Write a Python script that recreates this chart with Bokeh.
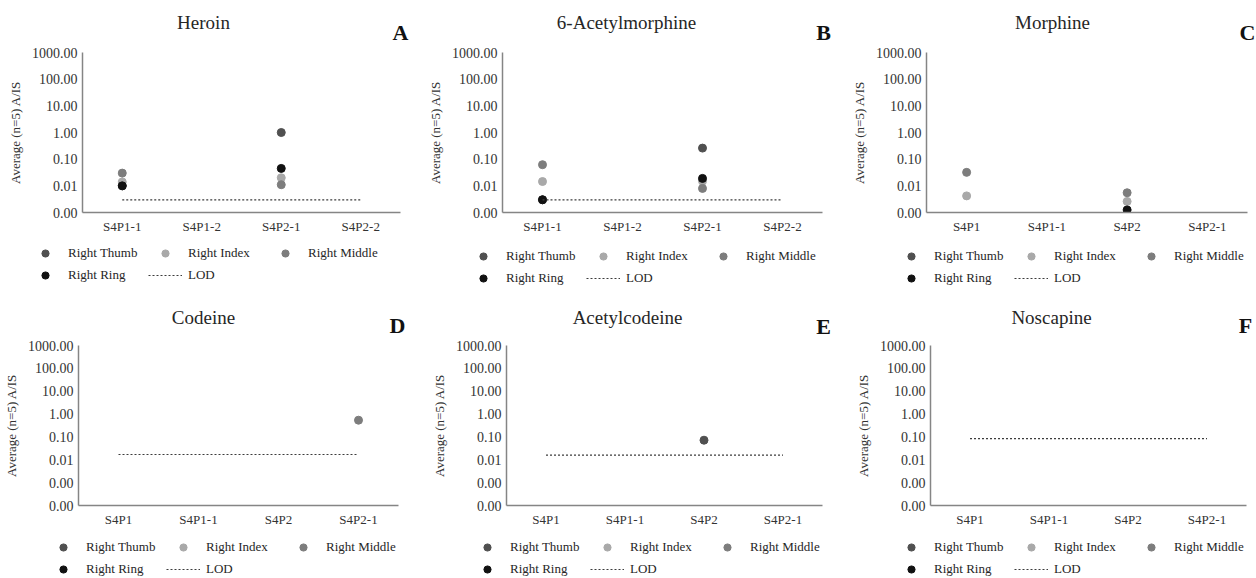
from bokeh.plotting import figure
from bokeh.models import (FactorRange, Range1d, FixedTicker, CustomJSTickFormatter,
                          Legend, LegendItem, Label)
from bokeh.layouts import column, row
from bokeh.embed import file_html
from bokeh.resources import INLINE

FONT = "Liberation Serif"
N = None

# ---------------- data ----------------
series_names = ["Right Thumb", "Right Index", "Right Middle", "Right Ring"]
lod_name = "LOD"
y_label = "Average (n=5) A/IS"
y_ticks = [0.0001, 0.001, 0.01, 0.1, 1, 10, 100, 1000]

titles = ["Heroin", "6-Acetylmorphine", "Morphine", "Codeine", "Acetylcodeine", "Noscapine"]
letters = ["A", "B", "C", "D", "E", "F"]

cats_heroin = ["S4P1-1", "S4P1-2", "S4P2-1", "S4P2-2"]
cats_6am = ["S4P1-1", "S4P1-2", "S4P2-1", "S4P2-2"]
cats_morphine = ["S4P1", "S4P1-1", "S4P2", "S4P2-1"]
cats_codeine = ["S4P1", "S4P1-1", "S4P2", "S4P2-1"]
cats_acetylcodeine = ["S4P1", "S4P1-1", "S4P2", "S4P2-1"]
cats_noscapine = ["S4P1", "S4P1-1", "S4P2", "S4P2-1"]

heroin_thumb = [0.010, N, 1.00, N]
heroin_index = [0.014, N, 0.020, N]
heroin_middle = [0.030, N, 0.011, N]
heroin_ring = [0.010, N, 0.045, N]
heroin_lod = [0.003, 0.003, 0.003, 0.003]

am6_thumb = [0.003, N, 0.26, N]
am6_index = [0.0145, N, 0.015, N]
am6_middle = [0.062, N, 0.008, N]
am6_ring = [0.003, N, 0.019, N]
am6_lod = [0.003, 0.003, 0.003, 0.003]

morphine_thumb = [N, N, N, N]
morphine_index = [0.0042, N, 0.0026, N]
morphine_middle = [0.032, N, 0.0055, N]
morphine_ring = [N, N, 0.00125, N]
morphine_lod = [N, N, N, N]

codeine_thumb = [N, N, N, N]
codeine_index = [N, N, N, N]
codeine_middle = [N, N, N, 0.54]
codeine_ring = [N, N, N, N]
codeine_lod = [0.017, 0.017, 0.017, 0.017]

acetylcodeine_thumb = [N, N, 0.072, N]
acetylcodeine_index = [N, N, N, N]
acetylcodeine_middle = [N, N, N, N]
acetylcodeine_ring = [N, N, N, N]
acetylcodeine_lod = [0.016, 0.016, 0.016, 0.016]

noscapine_thumb = [N, N, N, N]
noscapine_index = [N, N, N, N]
noscapine_middle = [N, N, N, N]
noscapine_ring = [N, N, N, N]
noscapine_lod = [0.085, 0.085, 0.085, 0.085]

panels_data = [
    (cats_heroin, [heroin_thumb, heroin_index, heroin_middle, heroin_ring], heroin_lod),
    (cats_6am, [am6_thumb, am6_index, am6_middle, am6_ring], am6_lod),
    (cats_morphine, [morphine_thumb, morphine_index, morphine_middle, morphine_ring], morphine_lod),
    (cats_codeine, [codeine_thumb, codeine_index, codeine_middle, codeine_ring], codeine_lod),
    (cats_acetylcodeine, [acetylcodeine_thumb, acetylcodeine_index, acetylcodeine_middle, acetylcodeine_ring], acetylcodeine_lod),
    (cats_noscapine, [noscapine_thumb, noscapine_index, noscapine_middle, noscapine_ring], noscapine_lod),
]

# ---------------- styles / layout ----------------
series_colors = ["#505050", "#a9a9a9", "#7d7d7d", "#111111"]
lod_color = "#3c3c3c"
axis_color = "#858585"
text_color = "#262626"
tick_color = "#333333"

TOTAL_W = 1256
col_w = [419, 417, 420]
col_x0 = [0, 419, 836]
row_top = [0, 289]
strip_h = [(44, 192, 53), (48, 192, 49)]   # title strip, charts, legend strip
chart_top = [8, 8]
frame_h = [161, 161]
y_low = [0.001, 0.0001]

LEG_GLYPH_H = 18
LEG_SPACING = 4
LEG_H = 2 * LEG_GLYPH_H + LEG_SPACING

# per panel (page px): frame_left, frame_w, (title cx, cy), (letter cx, cy), legend_left, legend row-1 cy
geo = [
    (82, 318, (203, 22), (400, 32), 28, 253),
    (502, 320, (626, 22), (823, 32), 466, 256),
    (926, 321, (1052, 22), (1247, 32), 894, 256),
    (78, 320, (203, 317), (397, 325), 46, 547),
    (506, 316, (627, 317), (823, 326), 470, 547),
    (930, 316, (1051, 317), (1245, 325), 894, 547),
]


def strip_fig(H):
    f = figure(width=TOTAL_W, height=H, x_range=Range1d(0, TOTAL_W), y_range=Range1d(0, H),
               x_axis_type=None, y_axis_type=None, output_backend="svg",
               toolbar_location=None, min_border=0)
    f.outline_line_color = None
    f.xgrid.visible = False
    f.ygrid.visible = False
    f.background_fill_color = "white"
    f.border_fill_color = "white"
    return f


rows_layout = []
for r in range(2):
    th, ch, lh = strip_h[r]
    y_title = row_top[r]
    y_leg = y_title + th + ch
    tf = strip_fig(th)
    lf = strip_fig(lh)
    charts = []
    for c in range(3):
        i = 3 * r + c
        cats, series, lod = panels_data[i]
        fl, fw, tpos, lpos, legx, leg_cy = geo[i]
        W = col_w[c]
        gx0 = col_x0[c]

        # ---- title + panel letter ----
        tf.add_layout(Label(x=tpos[0], y=th - (tpos[1] - y_title), text=titles[i],
                            text_align="center", text_baseline="middle",
                            text_font=FONT, text_font_size="19px", text_color=text_color))
        tf.add_layout(Label(x=lpos[0], y=th - (lpos[1] - y_title), text=letters[i],
                            text_align="center", text_baseline="middle",
                            text_font=FONT, text_font_size="22px", text_font_style="bold",
                            text_color="#111111"))

        # ---- chart ----
        left = fl - gx0
        top = chart_top[r]
        right = W - left - fw
        bottom = ch - top - frame_h[r]
        p = figure(x_range=FactorRange(*cats), y_range=Range1d(y_low[r], 1000),
                   y_axis_type="log", width=W, height=ch,
                   output_backend="svg", toolbar_location=None,
                   min_border_left=left, min_border_right=right,
                   min_border_top=top, min_border_bottom=bottom)
        p.outline_line_color = None
        p.xgrid.visible = False
        p.ygrid.visible = False
        p.background_fill_color = "white"
        p.border_fill_color = "white"
        p.yaxis.ticker = FixedTicker(ticks=y_ticks, minor_ticks=[])
        p.yaxis.formatter = CustomJSTickFormatter(code="return tick.toFixed(2);")
        for ax in (p.xaxis, p.yaxis):
            ax.axis_line_color = axis_color
            ax.axis_line_width = 1.5
            ax.major_tick_line_color = None
            ax.minor_tick_line_color = None
            ax.major_tick_out = 0
            ax.major_tick_in = 0
            ax.minor_tick_out = 0
            ax.major_label_text_font = FONT
            ax.major_label_text_color = tick_color
        p.xaxis.major_label_text_font_size = "13px"
        p.yaxis.major_label_text_font_size = "14px"
        p.xaxis.major_label_standoff = 6
        p.yaxis.major_label_standoff = 5
        p.yaxis.axis_label = y_label
        p.yaxis.axis_label_text_font = FONT
        p.yaxis.axis_label_text_font_size = "13px"
        p.yaxis.axis_label_text_font_style = "normal"
        p.yaxis.axis_label_text_color = tick_color
        p.yaxis.axis_label_standoff = 6

        for name, vals, col in zip(series_names, series, series_colors):
            xs = [cc for cc, v in zip(cats, vals) if v is not None]
            ys = [v for v in vals if v is not None]
            p.scatter(x=xs, y=ys, size=8, marker="circle", fill_color=col, line_color=col)
        lx = [cc for cc, v in zip(cats, lod) if v is not None]
        ly = [v for v in lod if v is not None]
        p.line(x=lx, y=ly, line_color=lod_color, line_width=1.2, line_dash="2 2")
        charts.append(p)

        # ---- legend (proxy glyphs kept outside the visible strip) ----
        items = []
        for name, col in zip(series_names, series_colors):
            rr = lf.scatter(x=[-50], y=[-50], size=8, marker="circle",
                            fill_color=col, line_color=col)
            items.append(LegendItem(label=name, renderers=[rr]))
        lr = lf.line(x=[-60, -50], y=[-50, -50], line_color=lod_color,
                     line_width=1.2, line_dash="2 2")
        items.append(LegendItem(label=lod_name, renderers=[lr]))
        leg_top = leg_cy - LEG_GLYPH_H / 2 - y_leg
        leg = Legend(items=items, location=(legx, lh - (leg_top + LEG_H)),
                     orientation="horizontal", ncols=3, padding=0, margin=0,
                     border_line_alpha=0, background_fill_alpha=0,
                     glyph_width=34, glyph_height=LEG_GLYPH_H, label_height=LEG_GLYPH_H,
                     label_width=76, label_standoff=6, spacing=LEG_SPACING,
                     label_text_font=FONT, label_text_font_size="13px",
                     label_text_color=text_color)
        lf.add_layout(leg)

    rows_layout.extend([tf, row(*charts), lf])

layout = column(*rows_layout)
open("out.html", "w").write(file_html(layout, INLINE))
